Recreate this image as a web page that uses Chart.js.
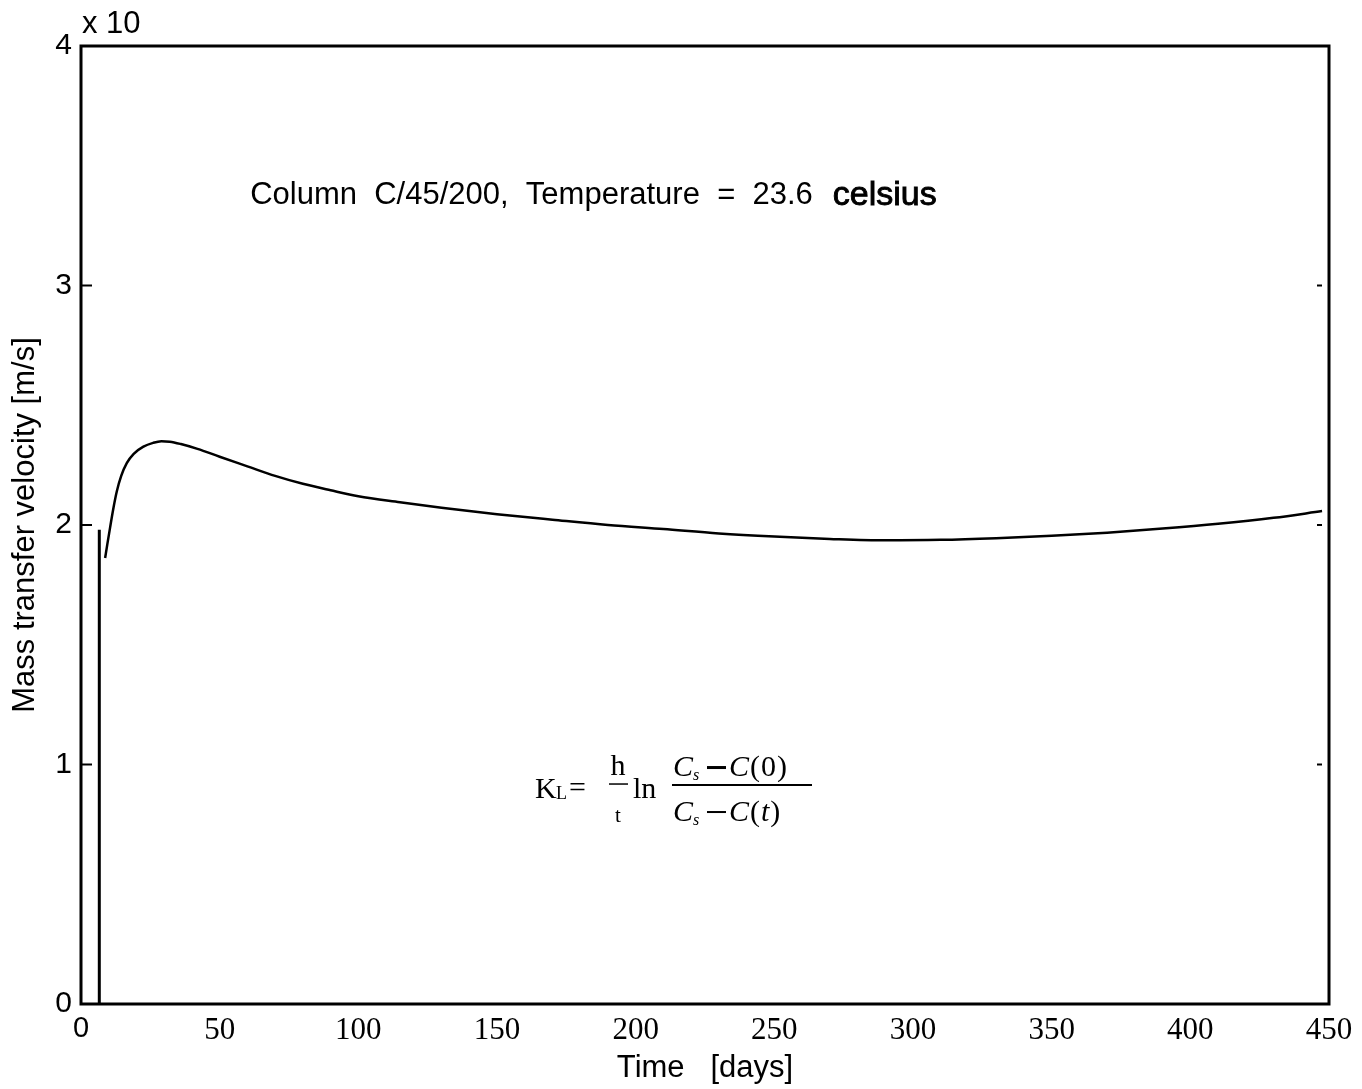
<!DOCTYPE html>
<html>
<head>
<meta charset="utf-8">
<script src="https://cdn.jsdelivr.net/npm/chart.js@4.4.1/dist/chart.umd.min.js"></script>
<style>
  body { margin: 0; background: #fff; }
  #wrap { width: 1362px; height: 1089px; }
</style>
</head>
<body>
<div id="wrap"><canvas id="kl" width="1362" height="1089"></canvas></div>
<script>
// K_L over time, values on the x 10 scale shown above the y axis
const days = [8.7, 9.5, 10.5, 11.6, 12.9, 14.5, 16.5, 19, 22.5, 26, 29, 32, 36, 42, 50, 60, 70, 80, 90, 100,
  115, 130, 140, 150, 170, 190, 210, 230, 250, 270, 290, 310, 330, 350, 370, 390, 410, 430, 447.5];
const kL = [1.862, 1.92, 1.99, 2.065, 2.14, 2.205, 2.258, 2.297, 2.327, 2.343, 2.35, 2.348, 2.338, 2.318,
  2.285, 2.245, 2.205, 2.172, 2.145, 2.12, 2.095, 2.072, 2.058, 2.045, 2.022, 2.0, 1.983, 1.965,
  1.952, 1.942, 1.936, 1.938, 1.945, 1.955, 1.968, 1.985, 2.005, 2.03, 2.058];

// start-up segment drawn before the curve
const startDays = [6.6, 6.6];
const startKL = [0, 1.98];

const xTicks = [0, 50, 100, 150, 200, 250, 300, 350, 400, 450];
const yTicks = [0, 1, 2, 3, 4];
const innerTicks = [1, 2, 3];

const SANS = '"Liberation Sans", Arial, sans-serif';
const SERIF = '"Liberation Serif", "Times New Roman", serif';

const toPoints = (xs, ys) => xs.map((x, i) => ({ x: x, y: ys[i] }));

// box, inner ticks, exponent and the two text blocks
const framePlugin = {
  id: 'frame',
  afterDraw(chart) {
    const ctx = chart.ctx;
    const a = chart.chartArea;
    const xs = chart.scales.x;
    const ys = chart.scales.y;
    ctx.save();
    ctx.strokeStyle = '#000';
    ctx.lineWidth = 3;
    ctx.strokeRect(a.left, a.top, a.right - a.left, a.bottom - a.top);

    ctx.lineWidth = 2;
    innerTicks.forEach(v => {
      const py = ys.getPixelForValue(v);
      ctx.beginPath();
      ctx.moveTo(a.left, py);
      ctx.lineTo(a.left + 11, py);
      ctx.stroke();
      ctx.beginPath();
      ctx.moveTo(a.right - 12, py);
      ctx.lineTo(a.right - 7, py);
      ctx.stroke();
    });

    ctx.fillStyle = '#000';
    ctx.textBaseline = 'alphabetic';
    ctx.textAlign = 'left';
    ctx.font = '31px ' + SANS;
    ctx.fillText('x 10', a.left + 1, a.top - 13);

    // run conditions
    let tx = xs.getPixelForValue(61);
    const ty = ys.getPixelForValue(3.34);
    const line = 'Column  C/45/200,  Temperature  =  23.6';
    ctx.fillText(line, tx, ty);
    tx += ctx.measureText(line).width + 20;
    ctx.font = '34px ' + SANS;
    ctx.lineWidth = 0.9;
    ctx.fillText('celsius', tx, ty + 1);
    ctx.strokeText('celsius', tx, ty + 1);

    // K_L = h/t ln((Cs - C(0)) / (Cs - C(t)))
    const fx = xs.getPixelForValue(163.7);
    const fy = ys.getPixelForValue(0.86);
    ctx.font = '30px ' + SERIF;
    ctx.fillText('K', fx, fy);
    ctx.font = '18px ' + SERIF;
    ctx.fillText('L', fx + 21, fy + 1);
    ctx.font = '30px ' + SERIF;
    ctx.fillText('=', fx + 34, fy - 1);
    ctx.textAlign = 'center';
    ctx.fillText('h', fx + 83, fy - 23);
    ctx.font = '21px ' + SERIF;
    ctx.fillText('t', fx + 83, fy + 24);
    ctx.lineWidth = 1.5;
    ctx.beginPath();
    ctx.moveTo(fx + 74, fy - 14);
    ctx.lineTo(fx + 93, fy - 14);
    ctx.stroke();
    ctx.textAlign = 'left';
    ctx.font = '30px ' + SERIF;
    ctx.fillText('ln', fx + 98, fy);

    // "Cs - C(arg)", arg upright or italic
    const fraction = (by, arg, italicArg, dashW) => {
      ctx.font = 'italic 30px ' + SERIF;
      ctx.fillText('C', fx + 138, by);
      ctx.font = 'italic 16px ' + SERIF;
      ctx.fillText('s', fx + 158, by + 4);
      ctx.fillRect(fx + 172, by - 10, 19, dashW);
      ctx.font = 'italic 30px ' + SERIF;
      ctx.fillText('C', fx + 194, by);
      let cx = fx + 194 + ctx.measureText('C').width + 1;
      ctx.font = '30px ' + SERIF;
      ctx.fillText('(', cx, by);
      cx += ctx.measureText('(').width + 1;
      ctx.font = (italicArg ? 'italic ' : '') + '30px ' + SERIF;
      ctx.fillText(arg, cx, by);
      cx += ctx.measureText(arg).width + 1;
      ctx.font = '30px ' + SERIF;
      ctx.fillText(')', cx, by);
    };
    fraction(fy - 22, '0', false, 3);
    fraction(fy + 23, 't', true, 2);
    ctx.lineWidth = 2;
    ctx.beginPath();
    ctx.moveTo(fx + 137, fy - 13);
    ctx.lineTo(fx + 277, fy - 13);
    ctx.stroke();
    ctx.restore();
  }
};

new Chart(document.getElementById('kl'), {
  type: 'line',
  data: {
    datasets: [
      {
        data: toPoints(startDays, startKL),
        borderColor: '#000',
        borderWidth: 3,
        pointRadius: 0,
        tension: 0
      },
      {
        data: toPoints(days, kL),
        borderColor: '#000',
        borderWidth: 2.5,
        pointRadius: 0,
        cubicInterpolationMode: 'monotone'
      }
    ]
  },
  options: {
    responsive: false,
    animation: false,
    layout: { padding: { top: 46, right: 33, left: 0, bottom: 0 } },
    plugins: { legend: { display: false }, tooltip: { enabled: false } },
    scales: {
      x: {
        type: 'linear',
        min: 0,
        max: 450,
        afterFit: s => { s.height = 85; },
        afterBuildTicks: s => { s.ticks = xTicks.map(v => ({ value: v })); },
        grid: { display: false, drawTicks: false },
        border: { display: false },
        ticks: {
          color: '#000',
          padding: 8,
          maxRotation: 0,
          font: c => (c.tick && c.tick.value === 0)
            ? { family: SANS, size: 29 }
            : { family: SERIF, size: 31 }
        },
        title: {
          display: true,
          text: 'Time   [days]',
          color: '#000',
          font: { family: SANS, size: 31 },
          padding: { top: 0, bottom: 2 }
        }
      },
      y: {
        min: 0,
        max: 4,
        afterFit: s => { s.width = 81; },
        afterBuildTicks: s => { s.ticks = yTicks.map(v => ({ value: v })); },
        grid: { display: false, drawTicks: false },
        border: { display: false },
        ticks: {
          color: '#000',
          padding: 9,
          font: { family: SANS, size: 30 }
        },
        title: {
          display: true,
          text: 'Mass transfer velocity [m/s]',
          color: '#000',
          font: { family: SANS, size: 31 },
          padding: { top: 7, bottom: 0 }
        }
      }
    }
  },
  plugins: [framePlugin]
});
</script>
</body>
</html>
